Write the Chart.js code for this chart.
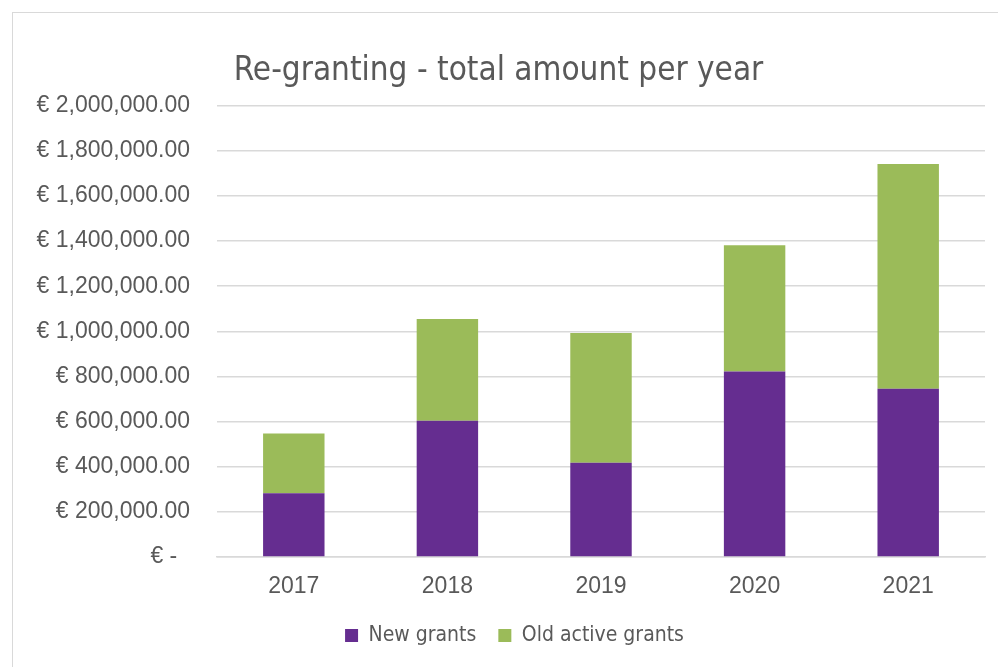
<!DOCTYPE html>
<html>
<head>
<meta charset="utf-8">
<script src="https://cdn.jsdelivr.net/npm/chart.js@4"></script>
<style>
  html, body { margin: 0; padding: 0; background: #fff; }
  #frame { position: absolute; left: 12px; top: 12px; width: 1000px; height: 700px; border: 1px solid #d9d9d9; box-sizing: border-box; }
  #wrap { position: absolute; left: 0; top: 0; width: 998px; height: 667px; }
</style>
</head>
<body>
<div id="frame"></div>
<div id="wrap"><canvas id="grafik"></canvas></div>
<script>
const years = ['2017', '2018', '2019', '2020', '2021'];
const newGrants = [282000, 604000, 418000, 822000, 746000];
const oldActiveGrants = [265000, 451000, 575000, 559000, 995000];
const yTicks = [0, 200000, 400000, 600000, 800000, 1000000, 1200000, 1400000, 1600000, 1800000, 2000000];

const textColor = '#595959';
const narrow = "'DejaVu Sans Condensed', 'Roboto', sans-serif";

function euro(value) {
    if (value === 0) return '€ -  ';
    return '€ ' + value.toLocaleString('en-US', { minimumFractionDigits: 2, maximumFractionDigits: 2 });
}

// excel puts the legend a bit right of centre
const shiftLegend = {
    id: 'shiftLegend',
    afterLayout(chart) {
        chart.legend.left += 16;
        chart.legend.right += 16;
    }
};

const ctx = document.getElementById('grafik').getContext('2d');

const config = {
    type: 'bar',
    data: {
        labels: years,
        datasets: [{
            label: 'New grants',
            data: newGrants,
            backgroundColor: '#652D90',
            barPercentage: 0.4,
            categoryPercentage: 1
        }, {
            label: 'Old active grants',
            data: oldActiveGrants,
            backgroundColor: '#9BBB59',
            barPercentage: 0.4,
            categoryPercentage: 1
        }]
    },
    options: {
        responsive: true,
        maintainAspectRatio: false,
        animation: false,
        layout: { padding: { left: 12, right: 13, top: 0, bottom: 11 } },
        scales: {
            x: {
                stacked: true,
                afterFit: function(scale) {
                    scale.height = 46;
                },
                grid: { display: false },
                border: { color: '#d9d9d9', width: 1.5 },
                ticks: { color: textColor, font: { family: 'Liberation Sans', size: 23 }, padding: 8 }
            },
            y: {
                stacked: true,
                min: 0,
                max: 2000000,
                afterBuildTicks: function(scale) {
                    scale.ticks = yTicks.map(v => ({ value: v }));
                },
                afterFit: function(scale) {
                    scale.width = 205;
                },
                grid: { color: '#d9d9d9', lineWidth: 1.5, drawTicks: false },
                border: { display: false },
                ticks: {
                    color: textColor,
                    font: { family: 'Liberation Sans', size: 23 },
                    padding: 27,
                    callback: function(value) { return euro(value); }
                }
            }
        },
        plugins: {
            title: {
                display: true,
                text: 'Re-granting - total amount per year',
                color: textColor,
                font: { family: narrow, size: 33, weight: 'normal' },
                padding: { top: 52, bottom: 14 }
            },
            legend: {
                position: 'bottom',
                labels: {
                    color: textColor,
                    font: { family: narrow, size: 21 },
                    boxWidth: 13,
                    boxHeight: 13,
                    padding: 22
                }
            },
            tooltip: { enabled: false }
        }
    },
    plugins: [shiftLegend]
};

const grafik = new Chart(ctx, config);
</script>
</body>
</html>
